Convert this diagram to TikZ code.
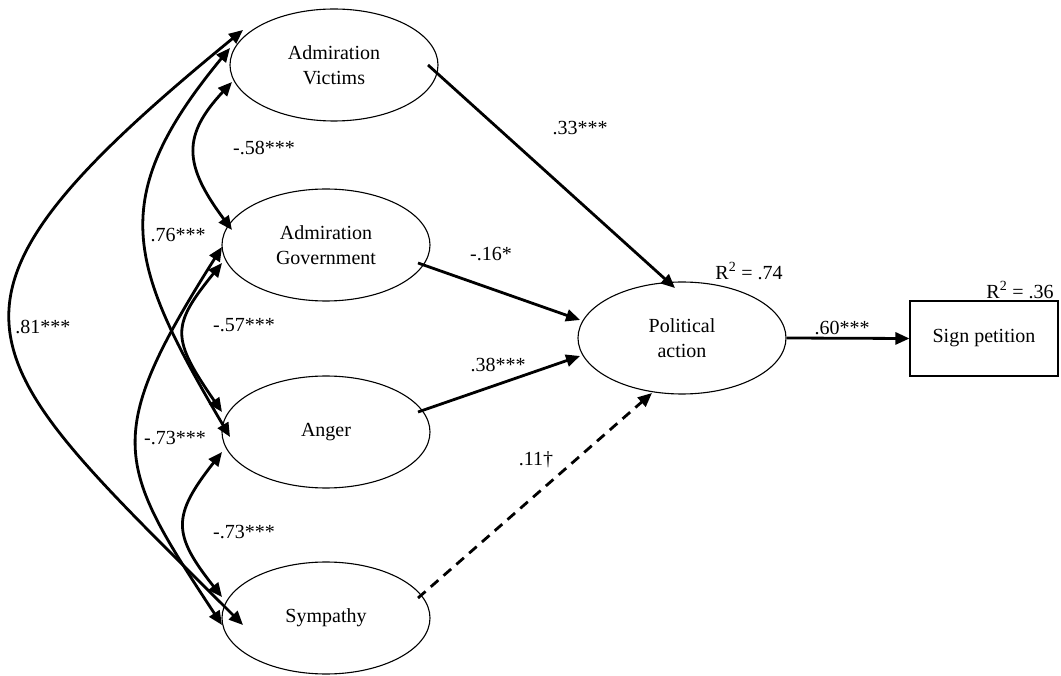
\documentclass[tikz,border=0pt]{standalone}
\usepackage{fontspec}
\setmainfont{Liberation Serif}
\usetikzlibrary{shapes.geometric,arrows.meta,calc}
\begin{document}
\begin{tikzpicture}[x=1pt,y=-1pt,
  lat/.style={ellipse,draw,line width=1.1pt,minimum width=208pt,minimum height=112pt,inner sep=0pt,align=center,font=\fontsize{20}{25}\selectfont},
  obs/.style={rectangle,draw,line width=1.1pt,minimum width=148pt,minimum height=75pt,inner sep=0pt,font=\fontsize{20}{25}\selectfont},
  lbl/.style={inner sep=0pt,font=\fontsize{20}{24}\selectfont},
  regpath/.style={line width=2.8pt,-{Triangle[length=14pt,width=12pt]}},
  cov/.style={line width=2.8pt,{Triangle[length=14pt,width=12pt]}-{Triangle[length=14pt,width=12pt]}},
]
\useasboundingbox[fill=white] (0,0) rectangle (1061,676);

\node[lat] (av) at (334,65) {Admiration\\Victims};
\node[lat] (ag) at (326,245) {Admiration\\Government};
\node[lat] (an) at (326,432) {Anger};
\node[lat] (sy) at (326,618) {Sympathy};
\node[lat] (pa) at (682,338) {Political\\action};
\node[obs] (sp) at (984,338.5) {Sign petition};

% covariances
\draw[cov] ($(av)+(-91,-35)$) .. controls (-99.6,310) and (-30.4,351.6) .. ($(sy)+(-83,7)$);
\draw[cov] ($(av)+(-104,-17)$) .. controls (104.4,200) and (128.9,265) .. ($(an)+(-96,5)$);
\draw[cov] ($(av)+(-102,17)$) .. controls (182.7,135) and (182.7,164) .. ($(ag)+(-94,-15)$);
\draw[cov] ($(ag)+(-104,2)$) .. controls (101.4,437.5) and (115.9,463.9) .. ($(sy)+(-104,7)$);
\draw[cov] ($(ag)+(-104,18)$) .. controls (171,326) and (171,338) .. ($(an)+(-104,-20)$);
\draw[cov] ($(an)+(-104,20)$) .. controls (172,515.6) and (172,534) .. ($(sy)+(-104,-21)$);

% regressions
\draw[regpath] ($(av)+(94,0)$) -- ($(pa)+(-7,-50)$);
\draw[regpath] ($(ag)+(92,18)$) -- ($(pa)+(-102,-18)$);
\draw[regpath] ($(an)+(92,-20)$) -- ($(pa)+(-102,18)$);
\draw[regpath,dash pattern=on 10pt off 7pt] ($(sy)+(92,-20)$) -- ($(pa)+(-30,55)$);
\draw[regpath] (pa.east) -- (sp.west);

% labels
\node[lbl] (l33) at (580,128) {.33***};
\node[lbl] (l16) at (491,254) {-.16*};
\node[lbl] (l38) at (498,365) {.38***};
\node[lbl] (l11) at (536,460) {.11†};
\node[lbl] (l60) at (842,328) {.60***};
\node[lbl] (r74) at (749,271) {R\textsuperscript{2} = .74};
\node[lbl] (r36) at (1020,290) {R\textsuperscript{2} = .36};
\node[lbl] (l58) at (264,148) {-.58***};
\node[lbl] (l76) at (178,235) {.76***};
\node[lbl] (l81) at (43,327) {.81***};
\node[lbl] (l57) at (244,325) {-.57***};
\node[lbl] (l73a) at (175,438) {-.73***};
\node[lbl] (l73b) at (244,532) {-.73***};
\end{tikzpicture}
\end{document}
